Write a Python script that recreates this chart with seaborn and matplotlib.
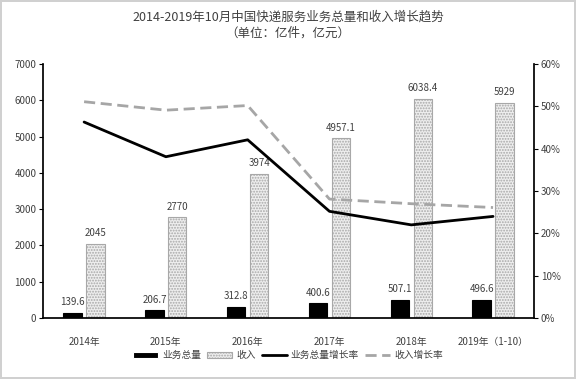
import numpy as np
import pandas as pd
import seaborn as sns
import matplotlib.pyplot as plt
from matplotlib.ticker import PercentFormatter

# data
years = ['2014年', '2015年', '2016年', '2017年', '2018年', '2019年（1-10）']
volume = [139.6, 206.7, 312.8, 400.6, 507.1, 496.6]
revenue = [2045, 2770, 3974, 4957.1, 6038.4, 5929]
volume_growth = [46.3, 38.1, 42.1, 25.2, 22.0, 24.0]
revenue_growth = [51.1, 49.1, 50.2, 28.1, 27.0, 26.1]

sns.set_theme(style='white')
plt.rcParams['font.family'] = ['Noto Sans CJK SC', 'DejaVu Sans']
plt.rcParams['axes.unicode_minus'] = False
plt.rcParams['hatch.linewidth'] = 0.9

df = pd.DataFrame({
    'year': years * 2,
    'value': volume + revenue,
    'kind': ['业务总量'] * len(years) + ['收入'] * len(years),
})

fig = plt.figure(figsize=(5.76, 3.79), dpi=100)
ax = fig.add_axes([0.075, 0.161, 0.852, 0.67])

sns.barplot(data=df, x='year', y='value', hue='kind', ax=ax,
            palette=['black', '#eeeeee'], width=0.56, gap=0.2,
            linewidth=0.8, saturation=1, legend=True)

# hatched revenue bars
for p in ax.containers[1]:
    p.set_hatch('......')
    p.set_edgecolor('#a8a8a8')
for p in ax.containers[0]:
    p.set_edgecolor('black')

for c in ax.containers:
    ax.bar_label(c, fmt='%g', padding=4, fontsize=7, color='#404040')

ax.set_ylim(0, 7000)
ax.set_xlim(-0.5, len(years) - 0.5)
ax.set_yticks(range(0, 7001, 1000))
ax.set_xlabel('')
ax.set_ylabel('')
ax.tick_params(axis='y', left=True, length=3, width=0.8, color='black', labelsize=7, labelcolor='#404040', pad=2)
ax.tick_params(axis='x', bottom=False, labelsize=7, labelcolor='#404040', pad=8)
for s in ['top', 'right']:
    ax.spines[s].set_visible(False)
ax.spines['left'].set_color('black')
ax.spines['bottom'].set_color('black')

ax2 = ax.twinx()
pos = np.arange(len(years))
sns.lineplot(x=pos, y=volume_growth, ax=ax2, color='black', lw=2, label='业务总量增长率')
sns.lineplot(x=pos, y=revenue_growth, ax=ax2, color='#a6a6a6', lw=2, linestyle=(0, (4, 2)), label='收入增长率')
ax2.set_ylim(0, 60)
ax2.set_yticks(range(0, 61, 10))
ax2.yaxis.set_major_formatter(PercentFormatter(decimals=0))
ax2.tick_params(axis='y', right=True, length=3, width=0.8, color='black', labelsize=7, labelcolor='#404040', pad=2)
for s in ['top', 'left', 'bottom']:
    ax2.spines[s].set_visible(False)
ax2.spines['right'].set_color('black')
ax2.set_ylabel('')

h1, l1 = ax.get_legend_handles_labels()
h2, l2 = ax2.get_legend_handles_labels()
h1[1].set_hatch('......')
h1[1].set_edgecolor('#a8a8a8')
ax.get_legend().remove()
ax2.get_legend().remove()
fig.legend(h1 + h2, l1 + l2, loc='center', bbox_to_anchor=(0.5, 0.063), ncol=4,
           frameon=False, fontsize=7, handlelength=2.6, handleheight=0.6, handletextpad=0.4,
           columnspacing=0.6, labelcolor='#404040')

fig.text(0.5, 0.955, '2014-2019年10月中国快递服务业务总量和收入增长趋势', ha='center', va='center',
         fontsize=9, color='#404040')
fig.text(0.5, 0.913, '（单位：亿件，亿元）', ha='center', va='center', fontsize=9, color='#404040')

fig.patch.set_edgecolor('#d0d0d0')
fig.patch.set_linewidth(1.5)
fig.savefig('out.png', dpi=100, edgecolor=fig.get_edgecolor())
